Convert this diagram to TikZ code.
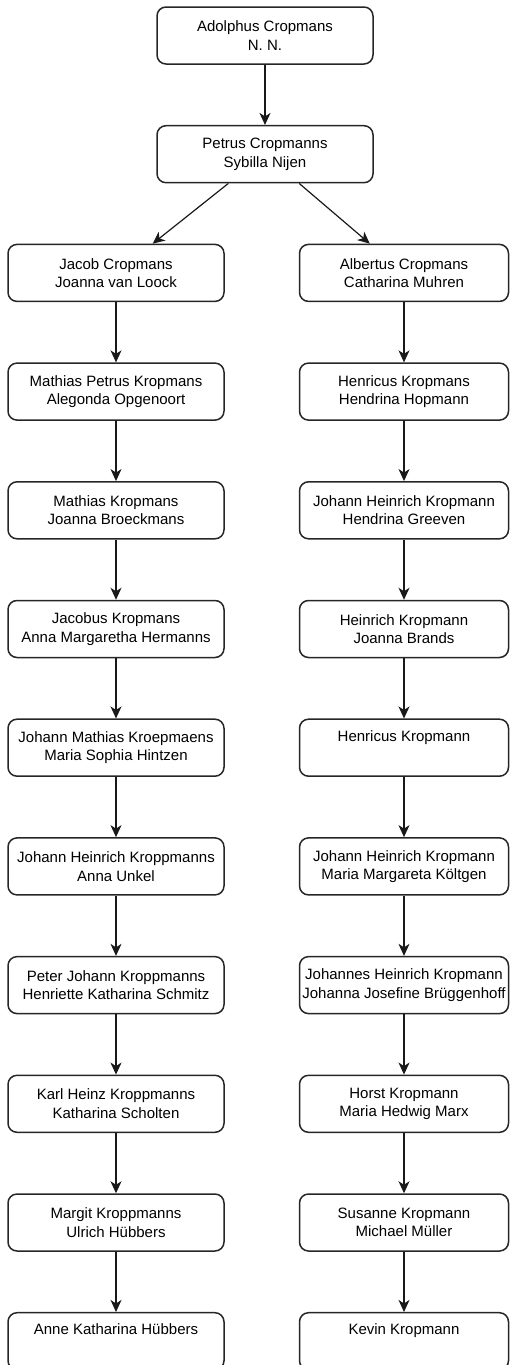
\documentclass[tikz,border=0pt]{standalone}
\usepackage{fontspec}
\setmainfont{Liberation Sans}
\usepackage{tikz}
\usetikzlibrary{arrows.meta}
\tikzset{
  pbox/.style={draw=black!85, line width=1.5pt, rounded corners=9pt, align=center,
    minimum width=216pt, minimum height=57pt, inner sep=0pt,
    font=\fontsize{15}{18.5}\selectfont},
  rbox/.style={pbox, minimum width=209pt},
  parrow/.style={-{Stealth[length=12pt,width=11pt,inset=3.5pt]}, line width=1.2pt, draw=black!90}
}

\begin{document}
\begin{tikzpicture}[x=1pt, y=-1pt]
    \useasboundingbox (0,0) rectangle (509,1365);
    \node[pbox] (a0) at (265,35.5) {Adolphus Cropmans\\N. N.};
    \node[pbox] (p0) at (265,154.2) {Petrus Cropmanns\\Sybilla Nijen};
    \node[pbox] (l1) at (116,272.9) {Jacob Cropmans\\Joanna van Loock};
    \node[pbox] (l2) at (116,391.6) {Mathias Petrus Kropmans\\Alegonda Opgenoort};
    \node[pbox] (l3) at (116,510.3) {Mathias Kropmans\\Joanna Broeckmans};
    \node[pbox] (l4) at (116,629.0) {Jacobus Kropmans\\Anna Margaretha Hermanns};
    \node[pbox] (l5) at (116,747.7) {Johann Mathias Kroepmaens\\Maria Sophia Hintzen};
    \node[pbox] (l6) at (116,866.4) {Johann Heinrich Kroppmanns\\Anna Unkel};
    \node[pbox] (l7) at (116,985.1) {Peter Johann Kroppmanns\\Henriette Katharina Schmitz};
    \node[pbox] (l8) at (116,1103.8) {Karl Heinz Kroppmanns\\Katharina Scholten};
    \node[pbox] (l9) at (116,1222.5) {Margit Kroppmanns\\Ulrich Hübbers};
    \node[pbox] (l10) at (116,1341.2) {Anne Katharina Hübbers\\\strut};
    \node[rbox] (r1) at (404,272.9) {Albertus Cropmans\\Catharina Muhren};
    \node[rbox] (r2) at (404,391.6) {Henricus Kropmans\\Hendrina Hopmann};
    \node[rbox] (r3) at (404,510.3) {Johann Heinrich Kropmann\\Hendrina Greeven};
    \node[rbox] (r4) at (404,629.0) {Heinrich Kropmann\\Joanna Brands};
    \node[rbox] (r5) at (404,747.7) {Henricus Kropmann\\\strut};
    \node[rbox] (r6) at (404,866.4) {Johann Heinrich Kropmann\\Maria Margareta Költgen};
    \node[rbox] (r7) at (404,985.1) {Johannes Heinrich Kropmann\\Johanna Josefine Brüggenhoff};
    \node[rbox] (r8) at (404,1103.8) {Horst Kropmann\\Maria Hedwig Marx};
    \node[rbox] (r9) at (404,1222.5) {Susanne Kropmann\\Michael Müller};
    \node[rbox] (r10) at (404,1341.2) {Kevin Kropmann\\\strut};
    \draw[parrow] (a0) -- (p0);
    \draw[parrow] (p0) -- (l1);
    \draw[parrow] (p0) -- (r1);
    \draw[parrow] (l1) -- (l2);
    \draw[parrow] (l2) -- (l3);
    \draw[parrow] (l3) -- (l4);
    \draw[parrow] (l4) -- (l5);
    \draw[parrow] (l5) -- (l6);
    \draw[parrow] (l6) -- (l7);
    \draw[parrow] (l7) -- (l8);
    \draw[parrow] (l8) -- (l9);
    \draw[parrow] (l9) -- (l10);
    \draw[parrow] (r1) -- (r2);
    \draw[parrow] (r2) -- (r3);
    \draw[parrow] (r3) -- (r4);
    \draw[parrow] (r4) -- (r5);
    \draw[parrow] (r5) -- (r6);
    \draw[parrow] (r6) -- (r7);
    \draw[parrow] (r7) -- (r8);
    \draw[parrow] (r8) -- (r9);
    \draw[parrow] (r9) -- (r10);
  \end{tikzpicture}
\end{document}
